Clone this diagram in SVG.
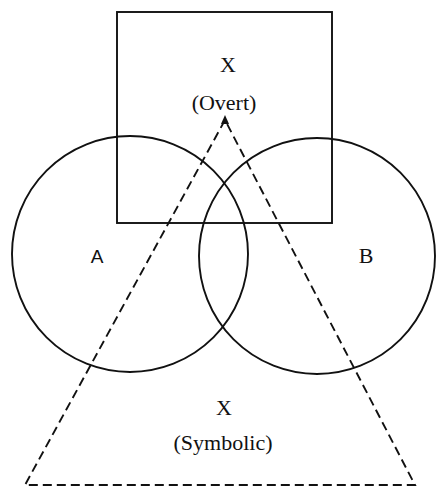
<svg xmlns="http://www.w3.org/2000/svg" width="436" height="491" viewBox="0 0 436 491">
<style>
.s{fill:none;stroke:#111;stroke-width:1.9}
.d{fill:none;stroke:#111;stroke-width:1.9;stroke-dasharray:9 5}
.t{font-family:"Liberation Serif","Times New Roman",serif;font-size:22px;fill:#111;text-anchor:middle}
</style>
<rect width="436" height="491" fill="#fff"/>
<g id="overt">
<rect class="s" x="117" y="12" width="215" height="211"/>
<text class="t" x="228" y="72">X</text>
<text class="t" x="224" y="110">(Overt)</text>
</g>
<g id="A">
<circle class="s" cx="130" cy="254" r="118"/>
<text class="t" x="97" y="263" style="font-family:'Liberation Sans',Arial,sans-serif;font-size:19px">A</text>
</g>
<g id="B">
<circle class="s" cx="317" cy="256" r="118"/>
<text class="t" x="366" y="263">B</text>
</g>
<g id="symbolic">
<path class="d" d="M225 120 L25 485 L415 485 Z"/>
<path d="M225 115 L221 124 L229 124 Z" fill="#111"/>
<text class="t" x="224" y="415">X</text>
<text class="t" x="223" y="450">(Symbolic)</text>
</g>
</svg>
